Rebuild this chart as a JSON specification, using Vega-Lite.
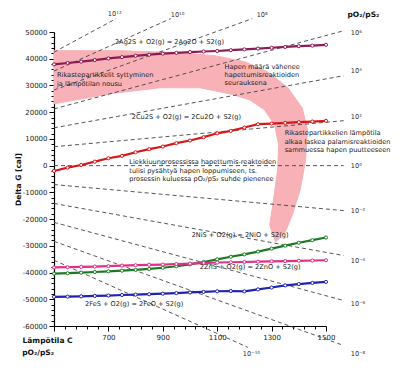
{
  "$schema": "https://vega.github.io/schema/vega-lite/v6.json",
  "width": 272,
  "height": 294,
  "autosize": "none",
  "padding": {"left": 54, "top": 32, "right": 79, "bottom": 50},
  "background": "white",
  "config": {"view": {"stroke": null}, "font": "DejaVu Sans"},
  "datasets": {
    "band": [
      {"i": 0, "T": 500, "G": 43000}, {"i": 1, "T": 742, "G": 43000}, {"i": 2, "T": 962, "G": 42260},
      {"i": 3, "T": 1091, "G": 41140}, {"i": 4, "T": 1201, "G": 38890}, {"i": 5, "T": 1285, "G": 35140},
      {"i": 6, "T": 1360, "G": 29140}, {"i": 7, "T": 1412, "G": 21640}, {"i": 8, "T": 1432, "G": 13390},
      {"i": 9, "T": 1425, "G": 2140}, {"i": 10, "T": 1405, "G": -9110}, {"i": 11, "T": 1376, "G": -18490},
      {"i": 12, "T": 1350, "G": -24860}, {"i": 13, "T": 1315, "G": -28610}, {"i": 14, "T": 1293, "G": -22240},
      {"i": 15, "T": 1307, "G": -12860}, {"i": 16, "T": 1322, "G": -1610}, {"i": 17, "T": 1326, "G": 7760},
      {"i": 18, "T": 1311, "G": 15260}, {"i": 19, "T": 1274, "G": 20890}, {"i": 20, "T": 1219, "G": 24640},
      {"i": 21, "T": 1146, "G": 26890}, {"i": 22, "T": 1036, "G": 29140}, {"i": 23, "T": 889, "G": 29140},
      {"i": 24, "T": 706, "G": 26890}, {"i": 25, "T": 500, "G": 23140}
    ],
    "grid": [{"T": 700}, {"T": 900}, {"T": 1100}, {"T": 1300}, {"T": 1500}],
    "isobars": [
      {"n": 12, "T": 500, "G": 42452}, {"n": 12, "T": 728.5, "G": 55000},
      {"n": 10, "T": 500, "G": 35377}, {"n": 10, "T": 928.9, "G": 55000},
      {"n": 8, "T": 500, "G": 28302}, {"n": 8, "T": 1229.3, "G": 55000},
      {"n": 6, "T": 500, "G": 21226}, {"n": 6, "T": 1565, "G": 50465},
      {"n": 4, "T": 500, "G": 14151}, {"n": 4, "T": 1565, "G": 33643},
      {"n": 2, "T": 500, "G": 7075}, {"n": 2, "T": 1565, "G": 16822},
      {"n": 0, "T": 500, "G": 0}, {"n": 0, "T": 1565, "G": 0},
      {"n": -2, "T": 500, "G": -7075}, {"n": -2, "T": 1565, "G": -16822},
      {"n": -4, "T": 500, "G": -14151}, {"n": -4, "T": 1565, "G": -33643},
      {"n": -6, "T": 500, "G": -21226}, {"n": -6, "T": 1565, "G": -50465},
      {"n": -8, "T": 500, "G": -28302}, {"n": -8, "T": 1565, "G": -67287},
      {"n": -10, "T": 500, "G": -35377}, {"n": -10, "T": 1213, "G": -68000}
    ],
    "series": [
      {"s": "Ag2S", "T": 500, "G": 37900}, {"s": "Ag2S", "T": 550, "G": 38400}, {"s": "Ag2S", "T": 600, "G": 38900},
      {"s": "Ag2S", "T": 650, "G": 39500}, {"s": "Ag2S", "T": 700, "G": 40100}, {"s": "Ag2S", "T": 750, "G": 40600},
      {"s": "Ag2S", "T": 800, "G": 41100}, {"s": "Ag2S", "T": 850, "G": 41500}, {"s": "Ag2S", "T": 900, "G": 41900},
      {"s": "Ag2S", "T": 950, "G": 42200}, {"s": "Ag2S", "T": 1000, "G": 42500}, {"s": "Ag2S", "T": 1050, "G": 42700},
      {"s": "Ag2S", "T": 1100, "G": 42900}, {"s": "Ag2S", "T": 1150, "G": 43200}, {"s": "Ag2S", "T": 1200, "G": 43500},
      {"s": "Ag2S", "T": 1250, "G": 43800}, {"s": "Ag2S", "T": 1300, "G": 44100}, {"s": "Ag2S", "T": 1350, "G": 44400},
      {"s": "Ag2S", "T": 1400, "G": 44700}, {"s": "Ag2S", "T": 1450, "G": 44900}, {"s": "Ag2S", "T": 1500, "G": 45200},
      {"s": "Cu2S", "T": 500, "G": -2000}, {"s": "Cu2S", "T": 550, "G": -750}, {"s": "Cu2S", "T": 600, "G": 250},
      {"s": "Cu2S", "T": 650, "G": 1500}, {"s": "Cu2S", "T": 700, "G": 2750}, {"s": "Cu2S", "T": 750, "G": 3650},
      {"s": "Cu2S", "T": 800, "G": 5000}, {"s": "Cu2S", "T": 850, "G": 6150}, {"s": "Cu2S", "T": 900, "G": 7150},
      {"s": "Cu2S", "T": 950, "G": 8400}, {"s": "Cu2S", "T": 1000, "G": 9400}, {"s": "Cu2S", "T": 1050, "G": 10650},
      {"s": "Cu2S", "T": 1100, "G": 12100}, {"s": "Cu2S", "T": 1150, "G": 13000}, {"s": "Cu2S", "T": 1200, "G": 14250},
      {"s": "Cu2S", "T": 1250, "G": 15500}, {"s": "Cu2S", "T": 1300, "G": 15750}, {"s": "Cu2S", "T": 1350, "G": 16000},
      {"s": "Cu2S", "T": 1400, "G": 16250}, {"s": "Cu2S", "T": 1450, "G": 16500}, {"s": "Cu2S", "T": 1500, "G": 16750},
      {"s": "NiS", "T": 500, "G": -40400}, {"s": "NiS", "T": 550, "G": -40250}, {"s": "NiS", "T": 600, "G": -40050},
      {"s": "NiS", "T": 650, "G": -39800}, {"s": "NiS", "T": 700, "G": -39550}, {"s": "NiS", "T": 750, "G": -39300},
      {"s": "NiS", "T": 800, "G": -39000}, {"s": "NiS", "T": 850, "G": -38650}, {"s": "NiS", "T": 900, "G": -38200},
      {"s": "NiS", "T": 950, "G": -37650}, {"s": "NiS", "T": 1000, "G": -36950}, {"s": "NiS", "T": 1050, "G": -36050},
      {"s": "NiS", "T": 1100, "G": -35050}, {"s": "NiS", "T": 1150, "G": -34100}, {"s": "NiS", "T": 1200, "G": -33200},
      {"s": "NiS", "T": 1250, "G": -32150}, {"s": "NiS", "T": 1300, "G": -31050}, {"s": "NiS", "T": 1350, "G": -29950},
      {"s": "NiS", "T": 1400, "G": -28850}, {"s": "NiS", "T": 1450, "G": -27900}, {"s": "NiS", "T": 1500, "G": -26900},
      {"s": "ZnS", "T": 500, "G": -38100}, {"s": "ZnS", "T": 550, "G": -38000}, {"s": "ZnS", "T": 600, "G": -37900},
      {"s": "ZnS", "T": 650, "G": -37750}, {"s": "ZnS", "T": 700, "G": -37600}, {"s": "ZnS", "T": 750, "G": -37400},
      {"s": "ZnS", "T": 800, "G": -37250}, {"s": "ZnS", "T": 850, "G": -37100}, {"s": "ZnS", "T": 900, "G": -37000},
      {"s": "ZnS", "T": 950, "G": -36800}, {"s": "ZnS", "T": 1000, "G": -36650}, {"s": "ZnS", "T": 1050, "G": -36450},
      {"s": "ZnS", "T": 1100, "G": -36250}, {"s": "ZnS", "T": 1150, "G": -36150}, {"s": "ZnS", "T": 1200, "G": -36050},
      {"s": "ZnS", "T": 1250, "G": -35950}, {"s": "ZnS", "T": 1300, "G": -35800}, {"s": "ZnS", "T": 1350, "G": -35700},
      {"s": "ZnS", "T": 1400, "G": -35600}, {"s": "ZnS", "T": 1450, "G": -35500}, {"s": "ZnS", "T": 1500, "G": -35400},
      {"s": "FeS", "T": 500, "G": -49100}, {"s": "FeS", "T": 550, "G": -49000}, {"s": "FeS", "T": 600, "G": -48900},
      {"s": "FeS", "T": 650, "G": -48750}, {"s": "FeS", "T": 700, "G": -48600}, {"s": "FeS", "T": 750, "G": -48400},
      {"s": "FeS", "T": 800, "G": -48250}, {"s": "FeS", "T": 850, "G": -48100}, {"s": "FeS", "T": 900, "G": -47900},
      {"s": "FeS", "T": 950, "G": -47700}, {"s": "FeS", "T": 1000, "G": -47450}, {"s": "FeS", "T": 1050, "G": -47250},
      {"s": "FeS", "T": 1100, "G": -47000}, {"s": "FeS", "T": 1150, "G": -46900}, {"s": "FeS", "T": 1200, "G": -47050},
      {"s": "FeS", "T": 1250, "G": -46300}, {"s": "FeS", "T": 1300, "G": -45600}, {"s": "FeS", "T": 1350, "G": -44800},
      {"s": "FeS", "T": 1400, "G": -44300}, {"s": "FeS", "T": 1450, "G": -43900}, {"s": "FeS", "T": 1500, "G": -43500}
    ],
    "notes": [
      {"T": 724, "G": 46390, "label": "2Ag2S + O2(g) = 2Ag2O + S2(g)"},
      {"T": 511, "G": 34010, "label": "Rikastepartikkelit syttyminen"},
      {"T": 511, "G": 30640, "label": "ja lämpötilan nousu"},
      {"T": 1127, "G": 37010, "label": "Hapen määrä vähenee"},
      {"T": 1127, "G": 34010, "label": "hapettumisreaktioiden"},
      {"T": 1127, "G": 31010, "label": "seurauksena"},
      {"T": 786, "G": 18375, "label": "2Cu2S + O2(g) = 2Cu2O + S2(g)"},
      {"T": 1348, "G": 12150, "label": "Rikastepartikkelien lämpötila"},
      {"T": 1348, "G": 9000, "label": "alkaa laskea palamisreaktioiden"},
      {"T": 1348, "G": 5890, "label": "sammuessa hapen puutteeseen"},
      {"T": 777, "G": 1390, "label": "Liekkiuunprosessissa hapettumis-reaktoiden"},
      {"T": 777, "G": -1990, "label": "tulisi pysähtyä hapen loppumiseen, ts."},
      {"T": 777, "G": -5175, "label": "prosessin kuluessa pO₂/pS₂ suhde pienenee"},
      {"T": 1006, "G": -25990, "label": "2NiS + O2(g) = 2NiO + S2(g)"},
      {"T": 1036, "G": -38100, "label": "2ZnS + O2(g) = 2ZnO + S2(g)"},
      {"T": 614, "G": -51600, "label": "2FeS + O2(g) = 2FeO + S2(g)"}
    ],
    "ratioLabels": [
      {"T": 698, "G": 56890, "label": "10¹²"},
      {"T": 929, "G": 56510, "label": "10¹⁰"},
      {"T": 1245, "G": 56510, "label": "10⁸"},
      {"T": 1591, "G": 49650, "label": "10⁶"},
      {"T": 1591, "G": 35250, "label": "10⁴"},
      {"T": 1591, "G": 18375, "label": "10²"},
      {"T": 1591, "G": 0, "label": "10⁰"},
      {"T": 1591, "G": -16875, "label": "10⁻²"},
      {"T": 1591, "G": -35625, "label": "10⁻⁴"},
      {"T": 1591, "G": -51600, "label": "10⁻⁶"},
      {"T": 1591, "G": -70350, "label": "10⁻⁸"},
      {"T": 1194, "G": -70350, "label": "10⁻¹⁰"}
    ],
    "boldLabels": [
      {"T": 1579, "G": 56510, "label": "pO₂/pS₂"},
      {"T": 383, "G": -70240, "label": "pO₂/pS₂"}
    ]
  },
  "encoding": {
    "x": {
      "field": "T", "type": "quantitative",
      "scale": {"domain": [500, 1500], "nice": false, "zero": false},
      "axis": {
        "title": "Lämpötila C",
        "values": [500,540,580,620,660,700,740,780,820,860,900,940,980,1020,1060,1100,1140,1180,1220,1260,1300,1340,1380,1420,1460,1500],
        "labelExpr": "(datum.value - 500) % 200 === 0 && datum.value > 500 ? datum.value : ''",
        "tickSize": {"condition": {"test": "(datum.value - 500) % 200 === 0", "value": 5}, "value": 3},
        "tickColor": "#000", "domainColor": "#000", "domainWidth": 1.2,
        "labelFont": "DejaVu Sans", "labelFontSize": 7, "labelColor": "#222",
        "labelOverlap": false, "labelFlush": false, "labelPadding": 2,
        "titleFont": "DejaVu Sans", "titleFontSize": 7.5, "titleFontWeight": "bold", "titleColor": "#111",
        "titleX": -32, "titleY": 16, "titleAlign": "left", "titleAnchor": "start", "titleBaseline": "alphabetic",
        "grid": false
      }
    },
    "y": {
      "field": "G", "type": "quantitative",
      "scale": {"domain": [-60000, 50000], "nice": false, "zero": false},
      "axis": {
        "title": "Delta G [cal]",
        "values": [-60000,-58000,-56000,-54000,-52000,-50000,-48000,-46000,-44000,-42000,-40000,-38000,-36000,-34000,-32000,-30000,-28000,-26000,-24000,-22000,-20000,-18000,-16000,-14000,-12000,-10000,-8000,-6000,-4000,-2000,0,2000,4000,6000,8000,10000,12000,14000,16000,18000,20000,22000,24000,26000,28000,30000,32000,34000,36000,38000,40000,42000,44000,46000,48000,50000],
        "labelExpr": "datum.value % 10000 === 0 ? datum.value : ''",
        "tickSize": {"condition": {"test": "datum.value % 10000 === 0", "value": 5}, "value": 3},
        "tickColor": "#000", "domainColor": "#000", "domainWidth": 1.2,
        "labelFont": "DejaVu Sans", "labelFontSize": 7, "labelColor": "#222",
        "labelOverlap": false, "labelFlush": false, "labelPadding": 2,
        "titleFont": "DejaVu Sans", "titleFontSize": 7.5, "titleFontWeight": "bold", "titleColor": "#111",
        "titleX": -36, "titleY": 147, "titleAngle": -90, "titleAlign": "center", "titleBaseline": "middle",
        "grid": false
      }
    }
  },
  "layer": [
    {
      "data": {"name": "band"},
      "mark": {"type": "line", "fill": "#f7b1b7", "stroke": "#f7b1b7", "strokeWidth": 1, "interpolate": "linear-closed"},
      "encoding": {"order": {"field": "i", "type": "quantitative"}}
    },
    {
      "data": {"name": "grid"},
      "mark": {"type": "rule", "color": "#000", "strokeWidth": 1.2},
      "encoding": {"y": {"datum": -60000}, "y2": {"datum": 50000}}
    },
    {
      "data": {"values": [{}]},
      "mark": {"type": "rule", "color": "#222", "strokeWidth": 1, "strokeDash": [4, 3]},
      "encoding": {"x": {"datum": 500}, "x2": {"datum": 1500}, "y": {"datum": 50000}}
    },
    {
      "data": {"name": "isobars"},
      "mark": {"type": "line", "color": "#444", "strokeWidth": 0.9, "strokeDash": [4, 3]},
      "encoding": {"detail": {"field": "n", "type": "nominal"}}
    },
    {
      "data": {"name": "series"},
      "mark": {"type": "line", "strokeWidth": 2.2},
      "encoding": {
        "color": {"field": "s", "type": "nominal", "legend": null,
          "scale": {"domain": ["Ag2S", "Cu2S", "NiS", "ZnS", "FeS"], "range": ["#8e1b55", "#d81818", "#1d7a24", "#e0308a", "#1f23b0"]}}
      }
    },
    {
      "data": {"name": "series"},
      "mark": {"type": "point", "shape": "circle", "filled": true, "fill": "white", "strokeWidth": 1, "size": 10, "opacity": 1},
      "encoding": {
        "stroke": {"field": "s", "type": "nominal", "legend": null,
          "scale": {"domain": ["Ag2S", "Cu2S", "NiS", "ZnS", "FeS"], "range": ["#8e1b55", "#d81818", "#1d7a24", "#e0308a", "#1f23b0"]}}
      }
    },
    {
      "data": {"name": "notes"},
      "mark": {"type": "text", "align": "left", "baseline": "middle", "font": "DejaVu Sans", "fontSize": 6.6, "color": "#222"},
      "encoding": {"text": {"field": "label"}}
    },
    {
      "data": {"name": "ratioLabels"},
      "mark": {"type": "text", "align": "left", "baseline": "middle", "font": "DejaVu Sans", "fontSize": 6.6, "color": "#333"},
      "encoding": {"text": {"field": "label"}}
    },
    {
      "data": {"name": "boldLabels"},
      "mark": {"type": "text", "align": "left", "baseline": "middle", "font": "DejaVu Sans", "fontSize": 7.5, "fontWeight": "bold", "color": "#111"},
      "encoding": {"text": {"field": "label"}}
    }
  ],
  "resolve": {"scale": {"color": "independent"}}
}
